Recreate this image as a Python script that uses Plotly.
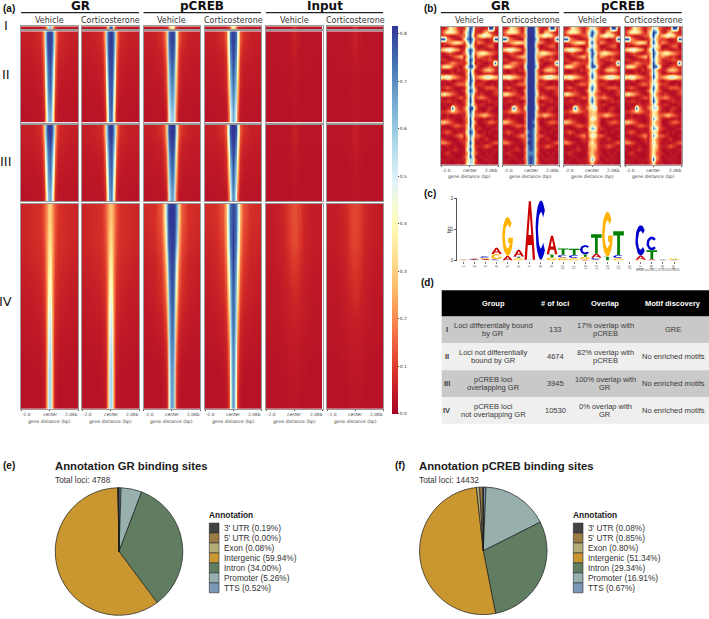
import numpy as np
import plotly.graph_objects as go

W, H = 709, 619
def X(p): return p / W
def Y(p): return 1 - p / H

COLORS_RDYLBU = ["#a50026", "#d73027", "#f46d43", "#fdae61", "#fee090", "#ffffbf",
                 "#e0f3f8", "#abd9e9", "#74add1", "#4575b4", "#313695"]
COLORBAR_TICKS = [0, .1, .2, .3, .4, .5, .6, .7, .8]

DIST = [0, .1, .2, .3, .4, .5, .7, 1.2, 2.0]

# ---- panel (a): signal by distance from center, rows top to bottom
I_GR_V = [[.66, .56, .3, .13, .07, .05, .04, .04, .04], [.62, .52, .26, .11, .07, .05, .04, .04, .04]]
I_GR_C = [[.78, .72, .34, .13, .07, .05, .04, .04, .04], [.78, .7, .3, .11, .07, .05, .04, .04, .04]]
I_CR_V = [[.42, .36, .2, .1, .06, .05, .04, .04, .04], [.4, .32, .18, .09, .06, .05, .04, .04, .04]]
I_CR_C = [[.42, .36, .2, .1, .06, .05, .04, .04, .04], [.4, .32, .18, .09, .06, .05, .04, .04, .04]]
I_IN_V = [[.1, .08, .05, .04, .04, .035, .035, .035, .035], [.08, .07, .05, .04, .04, .035, .035, .035, .035]]
I_IN_C = [[.1, .08, .05, .04, .04, .035, .035, .035, .035], [.08, .07, .05, .04, .04, .035, .035, .035, .035]]

II_GR_V = [[.8, .8, .76, .56, .26, .12, .07, .055, .05],
           [.8, .78, .72, .5, .21, .09, .06, .05, .045],
           [.78, .74, .66, .42, .16, .07, .05, .045, .04],
           [.76, .72, .62, .34, .13, .06, .045, .04, .04],
           [.72, .68, .56, .26, .1, .05, .04, .035, .035],
           [.66, .62, .5, .2, .07, .04, .035, .035, .03]]
II_GR_C = [[.82, .8, .76, .58, .26, .12, .07, .055, .05],
           [.8, .8, .74, .52, .21, .09, .06, .05, .045],
           [.8, .78, .7, .44, .16, .07, .05, .045, .04],
           [.78, .76, .64, .36, .13, .06, .045, .04, .04],
           [.78, .74, .58, .28, .1, .05, .04, .035, .035],
           [.76, .7, .52, .2, .07, .04, .035, .035, .03]]
II_CR_V = [[.8, .8, .74, .54, .28, .14, .08, .055, .05],
           [.8, .76, .7, .48, .23, .1, .06, .05, .045],
           [.76, .72, .62, .4, .17, .08, .05, .045, .04],
           [.72, .68, .58, .33, .14, .07, .045, .04, .04],
           [.68, .64, .52, .26, .1, .05, .04, .035, .035],
           [.62, .58, .46, .2, .07, .04, .035, .035, .03]]
II_CR_C = [[.8, .8, .74, .54, .28, .14, .08, .055, .05],
           [.8, .78, .7, .48, .23, .1, .06, .05, .045],
           [.78, .74, .64, .4, .17, .08, .05, .045, .04],
           [.74, .7, .6, .33, .14, .07, .045, .04, .04],
           [.7, .66, .54, .26, .1, .05, .04, .035, .035],
           [.66, .6, .48, .2, .07, .04, .035, .035, .03]]
II_IN_V = [[.06, .05, .045, .04, .04, .035, .035, .035, .035], [.04, .04, .04, .035, .035, .035, .035, .035, .03],
           [.04, .035, .035, .035, .035, .03, .03, .03, .03], [.035, .035, .035, .03, .03, .03, .03, .03, .03]]
II_IN_C = [[.06, .05, .045, .04, .04, .035, .035, .035, .035], [.04, .04, .04, .035, .035, .035, .035, .035, .03],
           [.04, .035, .035, .035, .035, .03, .03, .03, .03], [.035, .035, .035, .03, .03, .03, .03, .03, .03]]

III_GR_V = [[.82, .8, .76, .58, .28, .12, .07, .055, .05],
            [.8, .76, .7, .5, .21, .09, .06, .05, .045],
            [.76, .72, .64, .42, .16, .07, .05, .045, .04],
            [.74, .7, .58, .34, .12, .06, .045, .04, .04],
            [.7, .66, .54, .26, .09, .05, .04, .035, .035],
            [.66, .62, .48, .19, .07, .04, .035, .035, .03]]
III_GR_C = [[.82, .8, .74, .56, .28, .12, .07, .055, .05],
            [.8, .76, .7, .5, .21, .09, .06, .05, .045],
            [.78, .74, .64, .42, .16, .07, .05, .045, .04],
            [.76, .72, .6, .34, .12, .06, .045, .04, .04],
            [.74, .7, .54, .26, .09, .05, .04, .035, .035],
            [.72, .66, .5, .19, .07, .04, .035, .035, .03]]
III_CR_V = [[.82, .82, .78, .62, .32, .14, .08, .055, .05],
            [.8, .8, .72, .52, .24, .11, .06, .05, .045],
            [.78, .76, .66, .42, .17, .08, .05, .045, .04],
            [.76, .72, .6, .34, .13, .07, .045, .04, .04],
            [.72, .68, .54, .26, .1, .05, .04, .035, .035],
            [.68, .64, .48, .19, .07, .04, .035, .035, .03]]
III_CR_C = [[.82, .82, .78, .6, .32, .14, .08, .055, .05],
            [.8, .8, .72, .52, .24, .11, .06, .05, .045],
            [.8, .76, .66, .42, .17, .08, .05, .045, .04],
            [.78, .72, .6, .34, .13, .07, .045, .04, .04],
            [.74, .7, .54, .26, .1, .05, .04, .035, .035],
            [.7, .66, .48, .19, .07, .04, .035, .035, .03]]
III_IN_V = [[.055, .05, .045, .04, .035, .035, .035, .035, .035], [.04, .04, .035, .035, .035, .035, .03, .03, .03],
            [.035, .035, .035, .03, .03, .03, .03, .03, .03]]
III_IN_C = [[.055, .05, .045, .04, .035, .035, .035, .035, .035], [.04, .04, .035, .035, .035, .035, .03, .03, .03],
            [.035, .035, .035, .03, .03, .03, .03, .03, .03]]

IV_GR_V = [[.3, .28, .22, .16, .13, .1, .08, .07, .06],
           [.34, .3, .24, .16, .12, .09, .08, .07, .06],
           [.38, .34, .24, .14, .1, .08, .07, .06, .05],
           [.44, .38, .24, .12, .09, .07, .06, .05, .045],
           [.5, .44, .26, .11, .07, .06, .05, .045, .04],
           [.54, .48, .26, .09, .06, .05, .04, .04, .035],
           [.58, .52, .28, .08, .05, .04, .035, .03, .03],
           [.58, .52, .28, .08, .045, .035, .03, .03, .03]]
IV_GR_C = [[.28, .26, .22, .16, .13, .1, .08, .07, .06],
           [.32, .29, .23, .15, .12, .09, .08, .07, .06],
           [.37, .33, .23, .13, .1, .08, .07, .06, .05],
           [.44, .38, .24, .12, .09, .07, .06, .05, .045],
           [.5, .44, .26, .11, .07, .06, .05, .045, .04],
           [.54, .48, .26, .09, .06, .05, .04, .04, .035],
           [.58, .52, .28, .08, .05, .04, .035, .03, .03],
           [.58, .52, .28, .08, .045, .035, .03, .03, .03]]
IV_CR_V = [[.82, .82, .8, .74, .6, .34, .14, .08, .07],
           [.82, .8, .78, .7, .5, .26, .12, .07, .06],
           [.8, .78, .72, .54, .34, .18, .09, .06, .05],
           [.78, .76, .64, .42, .24, .13, .08, .055, .045],
           [.76, .72, .58, .32, .16, .09, .06, .045, .04],
           [.72, .7, .52, .22, .1, .06, .045, .04, .035],
           [.7, .66, .46, .15, .07, .05, .035, .03, .03],
           [.68, .64, .42, .13, .05, .04, .03, .03, .03]]
IV_CR_C = [[.8, .78, .74, .62, .42, .26, .13, .08, .07],
           [.82, .78, .72, .58, .38, .22, .11, .07, .06],
           [.8, .76, .66, .46, .28, .16, .09, .06, .05],
           [.76, .74, .6, .38, .2, .12, .07, .055, .045],
           [.74, .72, .56, .28, .14, .08, .055, .045, .04],
           [.72, .68, .5, .2, .09, .06, .045, .04, .035],
           [.7, .66, .44, .15, .07, .05, .035, .03, .03],
           [.68, .64, .4, .12, .05, .04, .03, .03, .03]]
IV_IN_V = [[.12, .12, .11, .105, .1, .085, .065, .05, .045],
           [.115, .115, .105, .1, .09, .08, .06, .05, .045],
           [.09, .09, .085, .08, .075, .065, .055, .045, .04],
           [.07, .07, .065, .06, .06, .055, .05, .04, .04],
           [.055, .055, .055, .05, .05, .05, .045, .04, .035],
           [.045, .045, .045, .045, .045, .04, .04, .035, .035],
           [.04, .04, .04, .04, .04, .035, .035, .03, .03],
           [.035, .035, .035, .035, .035, .03, .03, .03, .03]]
IV_IN_C = [[.11, .11, .105, .1, .09, .08, .065, .05, .045],
           [.105, .105, .1, .095, .085, .075, .06, .05, .045],
           [.09, .09, .085, .08, .075, .065, .055, .045, .04],
           [.075, .075, .07, .065, .06, .055, .05, .04, .04],
           [.055, .055, .055, .05, .05, .05, .045, .04, .035],
           [.045, .045, .045, .045, .045, .04, .04, .035, .035],
           [.04, .04, .04, .04, .04, .035, .035, .03, .03],
           [.035, .035, .035, .035, .035, .03, .03, .03, .03]]

ROWS_A = [
    [I_GR_V, I_GR_C, I_CR_V, I_CR_C, I_IN_V, I_IN_C],
    [II_GR_V, II_GR_C, II_CR_V, II_CR_C, II_IN_V, II_IN_C],
    [III_GR_V, III_GR_C, III_CR_V, III_CR_C, III_IN_V, III_IN_C],
    [IV_GR_V, IV_GR_C, IV_CR_V, IV_CR_C, IV_IN_V, IV_IN_C],
]

# ---- panel (b): levels 0-9 per cell, read by eye
LEVELS = [.02, .05, .09, .15, .22, .3, .4, .55, .7, .82]
B_X = [-2.0, -1.8, -1.6, -1.4, -1.2, -1.0, -.8, -.6, -.4, -.2, 0, .2, .4, .6, .8, 1.0, 1.2, 1.4, 1.6, 1.8, 2.0]
# left and right flanks (8 cells each), rows shared by the four panels
B_FLANKS = [
    "11365421|21129921", "24666531|11453210", "12100123|56766321", "99432101|22101299", "12345665|43211211",
    "01012100|00123300", "56776541|12100110", "11232101|56654321", "10012345|43212100", "22100112|11223211",
    "01234322|21001290", "46653210|10123211", "10011021|12455421", "11012100|00101100", "66765432|45677654",
    "10120011|01210011", "01001233|22100101", "12321000|01233321", "00112101|10010123", "56543210|12100122",
    "10010123|34321001", "11221100|00112111", "01001211|12100011", "00129421|10012100", "22345432|11021000",
    "10100101|34543211", "01211000|10100101", "55432100|00123321", "10012332|10011001", "01000110|21000112",
    "12321011|00101000", "00101234|32100011", "21000012|10120000", "44321001|01001233", "00100100|11232100",
    "10011210|00100011", "01210000|10010100", "00011000|01001000", "10100101|00110100", "01000010|10001000",
]
# the five central cells (-0.4 to 0.4 kb) per panel
B_GR_V = ["26982", "47972", "37961", "58983", "26971", "15762", "27983", "36973", "15871", "26982",
          "14971", "37994", "24861", "15962", "14973", "25982", "36971", "15873", "26984", "15872",
          "14962", "25971", "15863", "36994", "25972", "15873", "24961", "14973", "25962", "15871",
          "26983", "15873", "14862", "25971", "15862", "16972", "14863", "25971", "15773", "16772"]
B_GR_C = ["59995", "69996", "49995", "69997", "59995", "69994", "49996", "59995", "59994", "49995",
          "59996", "79997", "59994", "39995", "49994", "59995", "49994", "39994", "59995", "49996",
          "49994", "39994", "49995", "69996", "39994", "39995", "49993", "39984", "49994", "39984",
          "48984", "39983", "38984", "39983", "38983", "48984", "38883", "48983", "38984", "38983"]
B_CR_V = ["34753", "46974", "37963", "25753", "16952", "25763", "47953", "35973", "26962", "15863",
          "25963", "46994", "24752", "25862", "14963", "24652", "25762", "15962", "36853", "15642",
          "25853", "15952", "24752", "35672", "14552", "24553", "14763", "14543", "24653", "15872",
          "14552", "14763", "13542", "14642", "14552", "13542", "14532", "13642", "13842", "12521"]
B_CR_C = ["34763", "46984", "37963", "25853", "16962", "25764", "47953", "35974", "26963", "15864",
          "25963", "46996", "24852", "25863", "14963", "24752", "25763", "15962", "36853", "15742",
          "25853", "15962", "24752", "35773", "14652", "24653", "14863", "14643", "24753", "15873",
          "14652", "14863", "14642", "14742", "14652", "14642", "14632", "14742", "14942", "13621"]
PANELS_B = [B_GR_V, B_GR_C, B_CR_V, B_CR_C]

# ---- panel (c): sequence logo heights in bits
LOGO_POS = list(range(1, 21))
LOGO_A = [.01, .02, .04, .2, .15, .22, 1.88, .01, .6, .02, .02, .03, .14, .02, .02, 0, .13, .04, .01, .01]
LOGO_C = [.01, .02, .05, .03, 0, .02, .01, 1.9, .02, .09, .1, .3, .06, .02, .1, 0, .98, .44, .01, .01]
LOGO_G = [.02, .02, .04, .17, 1.25, .08, .01, .01, .1, .1, .08, .09, .03, 1.44, .08, 0, .03, .01, .01, .04]
LOGO_T = [.01, .02, .01, .01, 0, .03, .01, .01, .1, .2, .2, .08, .62, .13, .76, 0, .02, .29, .01, .01]
LOGO_ORDER = ["TCAG", "TACG", "TAGC", "TCGA", "AG", "GTCA", "GCTA", "GATC", "GTA", "GCT", "GCT", "AGTC", "GCAT",
              "TG", "GCT", "", "GAC", "ATC", "ACGT", "ACTG"]
LOGO_COLOR = {"A": "#cc0000", "C": "#0000cc", "G": "#ffb300", "T": "#008000"}
LOGO_TICKS = [0, 1, 2]

# ---- panel (d)
TABLE_HEAD = ["Group", "# of loci", "Overlap", "Motif discovery"]
TABLE_ROMAN = ["I", "II", "III", "IV"]
TABLE_GROUP = ["Loci differentially bound<br>by GR", "Loci not differentially<br>bound by GR",
               "pCREB loci<br>overlapping GR", "pCREB loci<br>not overlapping GR"]
TABLE_LOCI = ["133", "4674", "3945", "10530"]
TABLE_OVERLAP = ["17% overlap with<br>pCREB", "82% overlap with<br>pCREB",
                 "100% overlap with<br>GR", "0% overlap with<br>GR"]
TABLE_MOTIF = ["GRE", "No enriched motifs", "No enriched motifs", "No enriched motifs"]

# ---- panels (e), (f)
ANNOT = ["3' UTR", "5' UTR", "Exon", "Intergenic", "Intron", "Promoter", "TTS"]
ANNOT_COLORS = ["#434343", "#9a7b45", "#b3ad78", "#c9962f", "#607d62", "#97b0ad", "#7a97b8"]
GR_PCT = [0.19, 0.00, 0.08, 59.94, 34.00, 5.26, 0.52]
CREB_PCT = [0.08, 0.85, 0.80, 51.34, 29.34, 16.91, 0.67]

# ---- geometry
A_COLS = [(21, 78), (82, 139), (143.5, 200), (205, 261), (266, 322.5), (327, 383)]
A_ROWS = [(24.5, 27.5), (29.5, 121.5), (124, 201), (203.5, 410)]
B_COLS = [(441, 498), (502.5, 559), (563.7, 620.3), (625, 681.7)]
B_ROW = (25, 164)
FRAME = "#9a9a9a"
DJ = "DejaVu Sans"
LB = "Liberation Sans"

fig = go.Figure()
layout = {}
annots = []
shapes = []
axn = [0]

def text(x, y, s, size, family=LB, color="#222222", bold=False, anchor="left", **kw):
    annots.append(dict(x=X(x), y=Y(y), xref="paper", yref="paper", text=f"<b>{s}</b>" if bold else s,
                       font=dict(size=size, family=family, color=color), showarrow=False,
                       xanchor=anchor, yanchor="middle", borderpad=0, borderwidth=0, **kw))

def new_axes(x0, x1, y0, y1, xkw, ykw):
    axn[0] += 1
    n = axn[0]
    sfx = "" if n == 1 else str(n)
    layout["xaxis" + sfx] = dict(domain=[X(x0), X(x1)], anchor="y" + sfx, **xkw)
    layout["yaxis" + sfx] = dict(domain=[Y(y1), Y(y0)], anchor="x" + sfx, **ykw)
    return "x" + sfx, "y" + sfx

def heat_axes(x0, x1, y0, y1, nrows, ticks=False, lw=.7):
    xkw = dict(range=[-2, 2], showgrid=False, zeroline=False, showline=True, linecolor=FRAME, linewidth=lw,
               mirror=True, tickvals=[-2, 0, 2] if ticks else [], ticktext=["", "", ""] if ticks else [],
               ticks="outside" if ticks else "", ticklen=1.5, tickwidth=.5, tickcolor="#555555")
    ykw = dict(range=[nrows - .5, -.5], showgrid=False, zeroline=False, showline=True, linecolor=FRAME, linewidth=lw,
               mirror=True, tickvals=[], ticks="")
    return new_axes(x0, x1, y0, y1, xkw, ykw)

def gene_labels(x0, x1, y):
    text(x0 + 1, y, "-2.0", 4.4, DJ, "#444444")
    text((x0 + x1) / 2, y, "center", 4.4, DJ, "#444444", anchor="center")
    text(x1, y, "2.0Kb", 4.4, DJ, "#444444", anchor="right")
    text((x0 + x1) / 2, y + 6.8, "gene distance (bp)", 4.5, DJ, "#444444", anchor="center")

# panel (a) heatmaps
a_x = [-d for d in DIST[:0:-1]] + DIST
for r, (y0, y1) in enumerate(A_ROWS):
    for c, (x0, x1) in enumerate(A_COLS):
        half = ROWS_A[r][c]
        z = [row[:0:-1] + row for row in half]
        xa, ya = heat_axes(x0, x1, y0, y1, len(z), ticks=(r == 3), lw=.3 if r == 0 else .7)
        fig.add_trace(go.Heatmap(x=a_x, z=z, xaxis=xa, yaxis=ya, coloraxis="coloraxis", zsmooth="best",
                                 hoverinfo="skip"))

for (x0, x1) in A_COLS:
    gene_labels(x0, x1, 416)

# panel (b) heatmaps
for c, (x0, x1) in enumerate(B_COLS):
    z = []
    for flank, mid in zip(B_FLANKS, PANELS_B[c]):
        left, right = flank.split("|")
        z.append([LEVELS[int(ch)] for ch in left + mid + right])
    xa, ya = heat_axes(x0, x1, B_ROW[0], B_ROW[1], len(z), ticks=True)
    fig.add_trace(go.Heatmap(x=B_X, z=z, xaxis=xa, yaxis=ya, coloraxis="coloraxis", zsmooth="best",
                             hoverinfo="skip"))
    gene_labels(x0, x1, 169.5)

# headers
for (x0, x1, lab) in [(21, 139, "GR"), (143.5, 261, "pCREB"), (266, 383, "Input"),
                      (441, 559, "GR"), (563.7, 681.7, "pCREB")]:
    shapes.append(dict(type="line", xref="paper", yref="paper", x0=X(x0), x1=X(x1), y0=Y(10.7), y1=Y(10.7),
                       line=dict(color="#222222", width=1.4)))
    text((x0 + x1) / 2, 4.5, lab, 12, DJ, "#111111", bold=True, anchor="center")
for (x0, x1), lab in zip(A_COLS + B_COLS, (["Vehicle", "Corticosterone"] * 5)):
    text((x0 + x1) / 2, 18.5, lab, 8, DJ, "#333333", anchor="center")

for lab, y in zip(["I", "II", "III", "IV"], [24, 72.7, 161, 301.5]):
    text(5.5, y, lab, 13, DJ, "#222222", anchor="center")

# panel labels
for lab, x, y in [("(a)", 2.5, 7), ("(b)", 424, 7), ("(c)", 424, 193), ("(d)", 421, 283), ("(e)", 2.5, 467), ("(f)", 394.5, 467)]:
    text(x, y, lab, 10, LB, "#111111", bold=True)

# panel (c) logo
def arc(rx, ry, a0, a1, n=24):
    t = np.radians(np.linspace(a0, a1, n))
    return list(zip(.5 + rx * np.cos(t), .5 + ry * np.sin(t)))

GLYPHS = {
    "A": [(0, 0), (.22, 0), (.31, .25), (.37, .42), (.5, .78), (.63, .42), (.37, .42), (.31, .25), (.69, .25),
          (.78, 0), (1, 0), (.6, 1), (.4, 1)],
    "C": arc(.5, .5, 42, 318) + arc(.27, .31, 318, 42),
    "G": arc(.5, .5, 42, 350) + [(1, .47), (.56, .47), (.56, .33), (.77, .33)] + arc(.27, .31, 325, 42),
    "T": [(.37, 0), (.63, 0), (.63, .82), (1, .82), (1, 1), (0, 1), (0, .82), (.37, .82)],
}
logo_h = {"A": LOGO_A, "C": LOGO_C, "G": LOGO_G, "T": LOGO_T}
xs = {k: [] for k in GLYPHS}
ys = {k: [] for k in GLYPHS}
for i, pos in enumerate(LOGO_POS):
    base = 0.0
    for ch in LOGO_ORDER[i]:
        h = logo_h[ch][i]
        if h <= 0:
            continue
        for gx, gy in GLYPHS[ch]:
            xs[ch].append(pos - .48 + .96 * gx)
            ys[ch].append(base + h * gy)
        xs[ch].append(None)
        ys[ch].append(None)
        base += h
x_unit = 11.09
xa, ya = new_axes(457, 680, 198, 260.7,
                  dict(range=[1 - 6.3 / x_unit, 20 + 6 / x_unit], showgrid=False, zeroline=False, showline=False,
                       tickvals=LOGO_POS, ticktext=[str(p) for p in LOGO_POS], tickangle=-90, ticks="outside",
                       ticklen=2, tickwidth=.5, tickcolor="#777777", tickfont=dict(size=4, family=LB, color="#333333")),
                  dict(range=[0, 2], showgrid=False, zeroline=False, showline=True, linecolor="#555555", linewidth=.8,
                       tickvals=LOGO_TICKS, ticks="outside", ticklen=2, tickwidth=.6, tickcolor="#555555",
                       tickfont=dict(size=4.5, family=LB, color="#333333")))
for ch in "ACGT":
    fig.add_trace(go.Scatter(x=xs[ch], y=ys[ch], xaxis=xa, yaxis=ya, mode="lines", fill="toself",
                             fillcolor=LOGO_COLOR[ch], line=dict(width=0, color=LOGO_COLOR[ch]),
                             hoverinfo="skip", showlegend=False))
annots.append(dict(x=X(449), y=Y(229), xref="paper", yref="paper", text="bits", textangle=-90, showarrow=False,
                   font=dict(size=4.5, family=LB, color="#333333"), xanchor="center", yanchor="middle"))
text(680, 270, "MEME (no SSC) 22.10.2019 10:08", 2.8, LB, "#555555", anchor="right")

# panel (d) table
T_X0, T_X1 = 441.7, 709
T_Y = [290.7, 317, 344, 371.3, 398.3, 425.3]
T_FILL = ["#000000", "#c9c9c9", "#efefef", "#c9c9c9", "#efefef"]
T_CX = [493, 555, 605, 673]
for i, col in enumerate(T_FILL):
    shapes.append(dict(type="rect", xref="paper", yref="paper", x0=X(T_X0), x1=X(T_X1), y0=Y(T_Y[i]), y1=Y(T_Y[i + 1]),
                       fillcolor=col, line=dict(width=0), layer="below"))

def cell(cx, cy, s, **kw):
    lines = s.split("<br>")
    for j, ln in enumerate(lines):
        text(cx, cy + (j - (len(lines) - 1) / 2) * 8.4, ln, 7.5, LB, kw.get("color", "#3a3a3a"),
             bold=kw.get("bold", False), anchor="center")

for cx, s in zip(T_CX, TABLE_HEAD):
    cell(cx, (T_Y[0] + T_Y[1]) / 2, s, color="#ffffff", bold=True)
for r in range(4):
    cy = (T_Y[r + 1] + T_Y[r + 2]) / 2
    cell(446.5, cy, TABLE_ROMAN[r], bold=True)
    for cx, col in zip(T_CX, [TABLE_GROUP, TABLE_LOCI, TABLE_OVERLAP, TABLE_MOTIF]):
        cell(cx, cy, col[r])

# panels (e), (f) pies
def pie(cx, cy, r, vals, title, total, title_x, leg_x):
    fig.add_trace(go.Pie(labels=ANNOT[::-1], values=vals[::-1], sort=False, direction="clockwise", rotation=0,
                         marker=dict(colors=ANNOT_COLORS[::-1], line=dict(color="#1c1c1c", width=.7)),
                         textinfo="none", hoverinfo="label+percent", showlegend=False,
                         domain=dict(x=[X(cx - r), X(cx + r)], y=[Y(cy + r), Y(cy - r)])))
    text(title_x, 468, title, 11.3, LB, "#1c1c1c", bold=True)
    text(title_x, 482, f"Total loci: {total}", 8.3, LB, "#333333")
    text(leg_x, 516.7, "Annotation", 8.4, LB, "#1c1c1c", bold=True)
    for k, (n, c, v) in enumerate(zip(ANNOT, ANNOT_COLORS, vals)):
        y0 = 525.3 + k * 10.05
        shapes.append(dict(type="rect", xref="paper", yref="paper", x0=X(leg_x), x1=X(leg_x + 9.7), y0=Y(y0), y1=Y(y0 + 10),
                           fillcolor=c, line=dict(color="#2e2e2e", width=.6)))
        text(leg_x + 14.3, y0 + 5, f"{n} ({v:.2f}%)", 8.3, LB, "#333333")

pie(119, 554, 64.3, GR_PCT, "Annotation GR binding sites", 4788, 55, 209.3)
pie(483.3, 553.3, 64.3, CREB_PCT, "Annotation pCREB binding sites", 14432, 419, 573.3)

fig.update_layout(
    width=W, height=H, autosize=False, margin=dict(l=0, r=0, t=0, b=0), paper_bgcolor="white", plot_bgcolor="white",
    showlegend=False, annotations=annots, shapes=shapes,
    coloraxis=dict(cmin=0, cmax=.817, colorscale=[[i / 10, c] for i, c in enumerate(COLORS_RDYLBU)],
                   colorbar=dict(x=X(391.5), xanchor="left", xpad=0, y=Y(24), yanchor="top", ypad=0,
                                 lenmode="pixels", len=388, thicknessmode="pixels", thickness=5.5,
                                 tickvals=COLORBAR_TICKS, tickformat=".1f", ticks="outside", ticklen=1.5, tickwidth=.5,
                                 tickfont=dict(size=4.3, family=DJ, color="#333333"), outlinewidth=0)),
    **layout,
)
fig.write_html("out.html", post_script="document.body.style.margin='0';document.body.style.overflow='hidden';",
               config=dict(displayModeBar=False))
